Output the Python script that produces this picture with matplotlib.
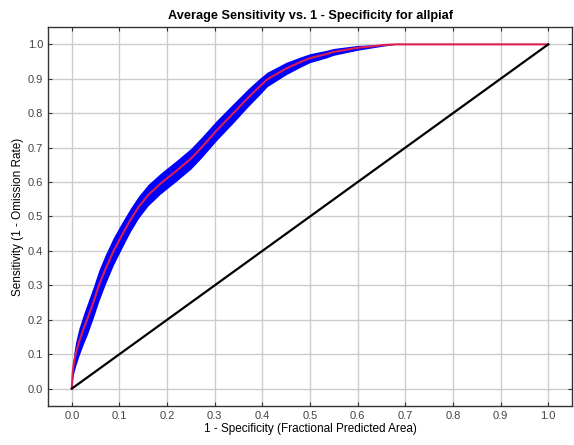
import matplotlib
matplotlib.use("Agg")
import matplotlib.pyplot as plt
import numpy as np

plt.rcParams["font.family"] = ["Liberation Sans", "DejaVu Sans"]

# mean ROC curve
fpr = [0, 0.002, 0.005, 0.008, 0.015, 0.025, 0.032, 0.045, 0.057, 0.07,
       0.087, 0.1, 0.111, 0.123, 0.14, 0.16, 0.185, 0.2, 0.22, 0.25,
       0.272, 0.304, 0.339, 0.37, 0.394, 0.41, 0.45, 0.479, 0.5, 0.535,
       0.549, 0.6, 0.654, 0.68, 1.0]
tpr = [0, 0.05, 0.08, 0.1, 0.135, 0.175, 0.2, 0.25, 0.3, 0.345,
       0.398, 0.432, 0.46, 0.49, 0.527, 0.562, 0.594, 0.611, 0.633, 0.668,
       0.70, 0.75, 0.8, 0.845, 0.877, 0.898, 0.93, 0.948, 0.96, 0.972,
       0.978, 0.99, 0.998, 1.0, 1.0]
# one standard deviation around the mean
sd = [0, 0.02, 0.03, 0.035, 0.04, 0.043, 0.045, 0.045, 0.045, 0.043,
      0.04, 0.038, 0.036, 0.034, 0.032, 0.031, 0.03, 0.03, 0.03, 0.03,
      0.03, 0.029, 0.028, 0.026, 0.024, 0.021, 0.018, 0.015, 0.013, 0.011,
      0.01, 0.007, 0.003, 0, 0]

ticks = [0.0, 0.1, 0.2, 0.3, 0.4, 0.5, 0.6, 0.7, 0.8, 0.9, 1.0]

fpr = np.array(fpr)
tpr = np.array(tpr)
sd = np.array(sd)

fig = plt.figure(figsize=(5.74, 4.45), dpi=100)
ax = fig.add_axes([0.0836, 0.088, 0.9130, 0.851])

ax.fill_between(fpr, np.clip(tpr - sd, 0, 1), np.clip(tpr + sd, 0, 1),
                color="#0000ff", linewidth=0, zorder=2)
ax.plot(fpr, tpr, color="#dc1e50", linewidth=1.5, zorder=3)
ax.plot([0, 1], [0, 1], color="black", linewidth=1.6, zorder=3)

ax.set_xlim(-0.05, 1.05)
ax.set_ylim(-0.05, 1.05)
ax.set_xticks(ticks)
ax.set_yticks(ticks)
ax.set_xticklabels([f"{t:.1f}" for t in ticks])
ax.set_yticklabels([f"{t:.1f}" for t in ticks])
ax.grid(True, color="#cccccc", linewidth=1.0, zorder=0)
ax.set_axisbelow(True)
ax.tick_params(direction="in", length=3, labelsize=8, labelcolor="#444444",
               top=True, right=True, color="#333333")

for s in ax.spines.values():
    s.set_color("#333333")
    s.set_linewidth(1.0)

ax.set_title("Average Sensitivity vs. 1 - Specificity for allpiaf",
             fontsize=9.2, fontweight="bold", pad=6)
ax.set_xlabel("1 - Specificity (Fractional Predicted Area)", fontsize=8.5, labelpad=2)
ax.set_ylabel("Sensitivity (1 - Omission Rate)", fontsize=8.5, labelpad=3)

fig.savefig("out.png", dpi=100)
